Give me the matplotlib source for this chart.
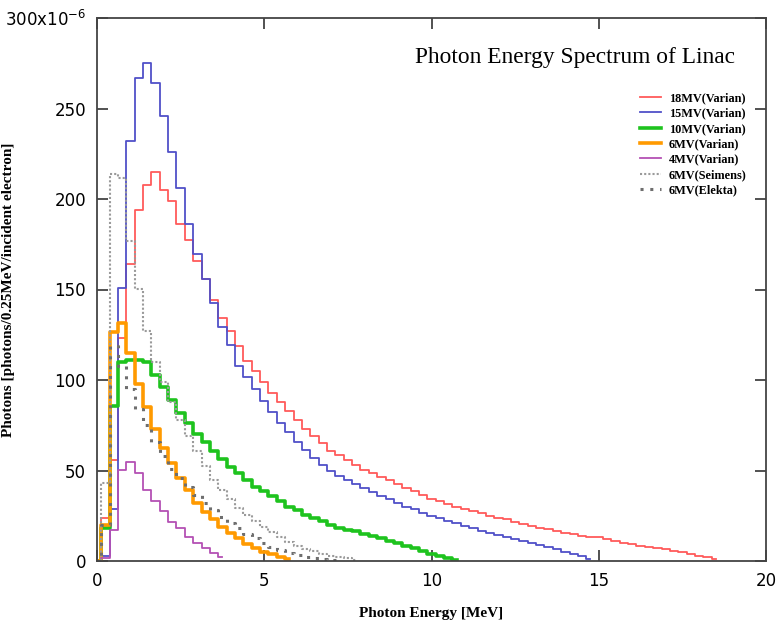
import numpy as np
import matplotlib.pyplot as plt

# photon spectra, value per 0.25 MeV bin (x1e-6), bins centred on 0, 0.25, 0.5 ...
bin_w = 0.25

r18 = [0, 24, 56, 123, 164, 194, 207.5, 215, 205, 199, 186, 177.5, 166, 156, 144, 134,
       127, 119, 110.5, 105, 99, 93, 88, 83, 78, 73, 69, 65, 61, 58.5, 56, 53,
       50.5, 48.5, 46.5, 44.5, 42.5, 40.5, 38.5, 36.5, 34.5, 33, 31.5, 30, 29, 27.5, 26.5, 25,
       24, 23, 21.5, 20.5, 19.5, 18.5, 17.5, 16.5, 15.5, 15, 14, 13.5, 13, 12, 11, 10,
       9.5, 8.5, 8, 7, 6.5, 5.5, 5, 4, 3, 2, 1]
b15 = [0, 3, 29, 151, 232, 267, 275, 264, 246, 226, 206, 186, 169.5, 156, 142.5, 129.5,
       119.5, 108, 101.5, 95, 88.5, 82.5, 76, 71, 66, 61.5, 57, 53, 49.5, 47, 44.5, 42.5,
       40.5, 38, 36, 34, 32, 30, 28.5, 26.5, 25, 23.5, 22, 21, 19.5, 18, 16.5, 15.5,
       14.5, 13.5, 12, 11, 10, 9, 7.5, 6.5, 5, 4, 2.5, 1]
g10 = [0, 18, 85.5, 110, 111, 111, 110, 102.5, 96, 89, 82, 76.5, 70, 65.5, 60.7, 56.6,
       52, 48.6, 45, 41, 38.5, 35.7, 33, 30, 28, 25.5, 24, 22, 20, 18, 17.3, 16.3,
       15, 13.7, 12.5, 11, 10, 8.5, 7, 5.5, 4, 2.7, 1.5, 0.5]
o6 = [0, 20, 126.6, 131.6, 115, 97.7, 85, 72.7, 62.7, 54.4, 46, 39.4, 32, 27, 23, 19,
      15.5, 12.5, 9.5, 7, 5, 3.6, 2.4, 1.3]
p4 = [0, 1.5, 17, 50.5, 54.6, 48.8, 39.4, 33, 27.4, 21.8, 18.3, 13.5, 10, 7.2, 4.4, 2]
s6 = [0, 43, 214, 211.5, 177, 150.5, 127, 110, 99, 88, 78, 69, 61, 52.5, 45, 39,
      34, 29.5, 25.5, 22, 19, 16, 13, 10.5, 8.5, 6.8, 5.3, 4, 3, 2.2, 1.5, 0.8]
e6 = [0, 20, 119, 108, 95, 84, 75, 66, 58, 51, 46, 41, 36.5, 32, 28, 24.5,
      21, 18, 15, 12.5, 10, 8, 6, 4.5, 3.3, 2.4, 1.6, 1.0, 0.6, 0.3]

labels = ['18MV(Varian)', '15MV(Varian)', '10MV(Varian)', '6MV(Varian)',
          '4MV(Varian)', '6MV(Seimens)', '6MV(Elekta)']

fig = plt.figure(figsize=(7.78, 6.25), dpi=100)
ax = fig.add_axes([0.1247, 0.1024, 0.8600, 0.8688])

def draw(vals, **kw):
    y = np.array(vals)
    x = np.arange(len(y)) * bin_w
    ax.step(x, y, where='mid', **kw)

draw(r18, color='#ff5a5a', lw=1.3, label=labels[0])
draw(b15, color='#5050c8', lw=1.3, label=labels[1])
draw(g10, color='#1ec31e', lw=2.6, label=labels[2])
draw(o6, color='#ff9a00', lw=2.6, label=labels[3])
draw(p4, color='#b450b4', lw=1.3, label=labels[4])
draw(s6, color='#9a9a9a', lw=1.5, ls=(0, (1, 1)), label=labels[5])
draw(e6, color='#6e6e6e', lw=2.2, ls=(0, (1, 2.2)), label=labels[6])

ax.set_xlim(0, 20)
ax.set_ylim(0, 300)
ax.set_xticks([0, 5, 10, 15, 20])
ax.set_yticks([0, 50, 100, 150, 200, 250, 300])
ax.set_yticklabels(['0', '50', '100', '150', '200', '250', '300x10$^{-6}$'])
ax.tick_params(direction='in', length=8, width=1.2, top=True, right=True,
               labelsize=12, pad=8, colors='#333333', labelcolor='black')
for s in ax.spines.values():
    s.set_color('#444444')
    s.set_linewidth(1.3)

serif = ['Liberation Serif', 'DejaVu Serif']
ax.set_xlabel('Photon Energy [MeV]', family=serif, fontweight='bold', fontsize=11, labelpad=12)
ax.set_ylabel('Photons [photons/0.25MeV/incident electron]', family=serif,
              fontweight='bold', fontsize=11)
ax.yaxis.set_label_coords(-0.122, 0.5)
ax.text(0.476, 0.928, 'Photon Energy Spectrum of Linac', transform=ax.transAxes,
        family=serif, fontsize=16.8, va='center')

ax.legend(loc='upper left', bbox_to_anchor=(0.803, 0.875), frameon=False,
          prop={'family': serif, 'weight': 'bold', 'size': 8.8},
          handlelength=1.7, handletextpad=0.65, labelspacing=0.28, borderpad=0)

fig.savefig('out.png', dpi=100)
